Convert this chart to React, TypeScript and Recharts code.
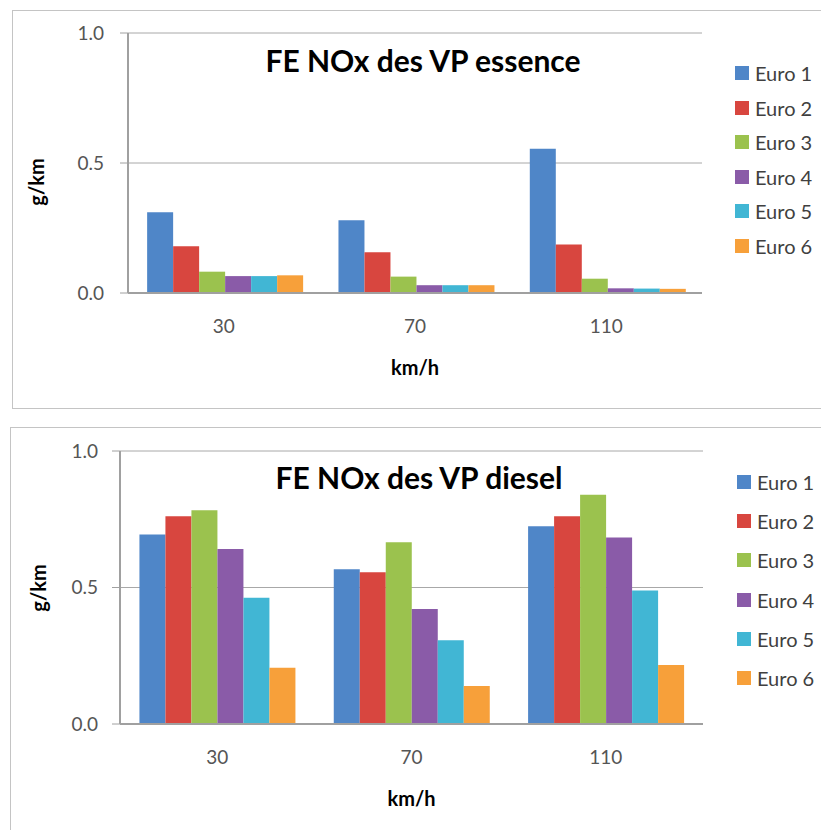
import { BarChart, Bar, XAxis, YAxis, CartesianGrid, Label } from "recharts";

const speeds = ["30", "70", "110"];
const euroNames = ["Euro 1", "Euro 2", "Euro 3", "Euro 4", "Euro 5", "Euro 6"];
const euroColors = ["#4f86c8", "#d8463f", "#9bc24e", "#8a5ba8", "#41b6d4", "#f7a03a"];
const yTicks = [0, 0.5, 1];

// FE NOx VP essence (g/km), one array per Euro norm, by speed
const essenceEuro1 = [0.311, 0.28, 0.555];
const essenceEuro2 = [0.18, 0.157, 0.187];
const essenceEuro3 = [0.082, 0.063, 0.055];
const essenceEuro4 = [0.065, 0.03, 0.018];
const essenceEuro5 = [0.065, 0.03, 0.017];
const essenceEuro6 = [0.068, 0.03, 0.016];

// FE NOx VP diesel (g/km)
const dieselEuro1 = [0.694, 0.567, 0.724];
const dieselEuro2 = [0.761, 0.556, 0.761];
const dieselEuro3 = [0.783, 0.666, 0.84];
const dieselEuro4 = [0.641, 0.421, 0.683];
const dieselEuro5 = [0.462, 0.307, 0.489];
const dieselEuro6 = [0.206, 0.139, 0.216];

const essenceSeries = [essenceEuro1, essenceEuro2, essenceEuro3, essenceEuro4, essenceEuro5, essenceEuro6];
const dieselSeries = [dieselEuro1, dieselEuro2, dieselEuro3, dieselEuro4, dieselEuro5, dieselEuro6];

const toRows = (series: number[][]) =>
  speeds.map((s, i) => {
    const row: Record<string, string | number> = { speed: s };
    series.forEach((vals, k) => {
      row[euroNames[k]] = vals[i];
    });
    return row;
  });

const FONT = "Lato, 'Open Sans', sans-serif";

interface PanelProps {
  top: number;
  series: number[][];
  title: string;
  plot: { left: number; right: number; top: number; bottom: number };
  tickGap: number;
  titleX: number;
  titleY: number;
  yLabelY: number;
  yLabelX: number;
  legendX: number;
  legendY: number;
  legendStep: number;
  catY: number;
  unitY: number;
}

function Panel(p: PanelProps) {
  const W = 821;
  const H = 420;
  const data = toRows(p.series);
  return (
    <div style={{ position: "absolute", left: 0, top: p.top, width: W, height: H }}>
      <BarChart
        width={W}
        height={H}
        data={data}
        barCategoryGap="10%"
        barGap={0}
        margin={{ top: p.plot.top, right: W - p.plot.right, left: 0, bottom: H - p.plot.bottom - 110 }}
      >
        <CartesianGrid vertical={false} stroke="#a8a8a8" />
        <XAxis
          dataKey="speed"
          height={110}
          tickLine={false}
          axisLine={{ stroke: "#a0a0a0", strokeWidth: 2 }}
          tick={{ fill: "#555555", fontSize: 19, fontFamily: FONT }}
          tickMargin={p.catY - p.plot.bottom - 15}
        >
          <Label
            value="km/h"
            position="insideTop"
            offset={p.unitY - p.plot.bottom - 11}
            style={{ fill: "#000", fontSize: 20, fontWeight: 700, fontFamily: FONT }}
          />
        </XAxis>
        <YAxis
          width={p.plot.left}
          domain={[0, 1]}
          ticks={yTicks}
          interval={0}
          tickFormatter={(v: number) => v.toFixed(1)}
          tickSize={8}
          tickMargin={p.tickGap}
          tickLine={{ stroke: "#a0a0a0" }}
          axisLine={{ stroke: "#a0a0a0", strokeWidth: 2 }}
          tick={{ fill: "#555555", fontSize: 19, fontFamily: FONT }}
        />
        {euroNames.map((name, k) => (
          <Bar key={name} dataKey={name} fill={euroColors[k]} isAnimationActive={false} />
        ))}
      </BarChart>

      {/* Title */}
      <div
        style={{
          position: "absolute",
          left: p.titleX - 220,
          width: 440,
          top: p.titleY - 18,
          textAlign: "center",
          fontFamily: FONT,
          fontWeight: 700,
          fontSize: 30,
          lineHeight: "36px",
          color: "#000",
        }}
      >
        {p.title}
      </div>

      {/* Y axis title */}
      <div
        style={{
          position: "absolute",
          left: p.yLabelX - 40,
          top: p.yLabelY - 12,
          width: 80,
          height: 24,
          lineHeight: "24px",
          textAlign: "center",
          transform: "rotate(-90deg)",
          fontFamily: FONT,
          fontWeight: 700,
          fontSize: 20,
          color: "#000",
        }}
      >
        g/km
      </div>

      {/* Legend */}
      {euroNames.map((name, k) => (
        <div
          key={name}
          style={{
            position: "absolute",
            left: p.legendX,
            top: p.legendY + k * p.legendStep - 12,
            height: 24,
            display: "flex",
            alignItems: "center",
            gap: 6,
            fontFamily: FONT,
            fontSize: 20,
            color: "#404040",
          }}
        >
          <span style={{ display: "inline-block", width: 14, height: 14, backgroundColor: euroColors[k] }} />
          <span>{name}</span>
        </div>
      ))}
    </div>
  );
}

export default function App() {
  return (
    <div
      style={{
        position: "absolute",
        left: 0,
        top: 0,
        width: 821,
        height: 830,
        overflow: "hidden",
        background: "#fff",
      }}
    >
      <div style={{ position: "absolute", left: 12, top: 10, width: 830, height: 397, border: "1px solid #c4c4c4" }} />
      <div style={{ position: "absolute", left: 10, top: 427, width: 830, height: 420, border: "1px solid #c4c4c4" }} />
      <Panel
        top={0}
        series={essenceSeries}
        title="FE NOx des VP essence"
        plot={{ left: 128, right: 702, top: 33, bottom: 293 }}
        tickGap={16}
        titleX={423}
        titleY={60}
        yLabelX={36}
        yLabelY={182}
        legendX={735}
        legendY={73}
        legendStep={34.5}
        catY={329}
        unitY={372}
      />
      <Panel
        top={410}
        series={dieselSeries}
        title="FE NOx des VP diesel"
        plot={{ left: 120, right: 703, top: 41, bottom: 314 }}
        tickGap={14}
        titleX={419}
        titleY={67}
        yLabelX={38}
        yLabelY={178}
        legendX={737}
        legendY={72}
        legendStep={39.2}
        catY={350}
        unitY={393}
      />
    </div>
  );
}
